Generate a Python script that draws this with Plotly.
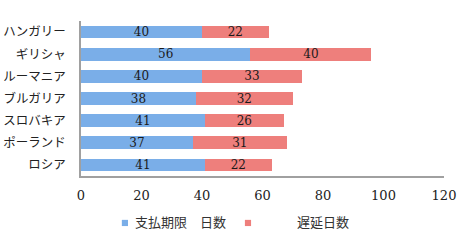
import plotly.graph_objects as go

categories = ["ハンガリー", "ギリシャ", "ルーマニア", "ブルガリア", "スロバキア", "ポーランド", "ロシア"]
payment_days = [40, 56, 40, 38, 41, 37, 41]
delay_days = [22, 40, 33, 32, 26, 31, 22]
series_names = ["支払期限　日数", "遅延日数"]
x_ticks = [0, 20, 40, 60, 80, 100, 120]

colors = ["#7aaee8", "#ee7f7c"]
font_family = "'DejaVu Serif', 'Noto Sans CJK JP', serif"

fig = go.Figure()
for name, vals, col in zip(series_names, [payment_days, delay_days], colors):
    fig.add_trace(go.Bar(
        y=categories, x=vals, orientation="h", name=name,
        marker=dict(color=col, line=dict(width=0)),
        text=vals, textposition="inside", insidetextanchor="middle", textangle=0,
        textfont=dict(color="#1a1a1a", size=12, family=font_family),
        showlegend=False,
    ))

# custom legend (markers + labels) placed below the axis
leg_y = -0.303
leg_items = [(0.121, 0.143), (0.46, 0.5895)]
for (mx, tx), name, col in zip(leg_items, series_names, colors):
    fig.add_shape(type="rect", xref="paper", yref="paper",
                  x0=mx - 0.0085, x1=mx + 0.0085, y0=leg_y - 0.02, y1=leg_y + 0.02,
                  fillcolor=col, line=dict(width=0))
    fig.add_annotation(xref="paper", yref="paper", x=tx, y=leg_y, xanchor="left",
                       yanchor="middle", text=name, showarrow=False,
                       font=dict(size=13, color="#333", family=font_family))

fig.update_layout(
    barmode="stack",
    bargap=0.42,
    width=457, height=247,
    margin=dict(l=81, r=13, t=21, b=71, autoexpand=False),
    paper_bgcolor="white", plot_bgcolor="white",
    font=dict(family=font_family, size=13, color="#222"),
    uniformtext=dict(mode="show", minsize=12),
    showlegend=False,
    xaxis=dict(range=[0, 120], tickvals=x_ticks, showgrid=False, zeroline=False,
               showline=True, linecolor="#a0a0a0", linewidth=1.5, ticks="",
               ticklabelstandoff=7,
               tickfont=dict(size=13, color="#222"), automargin=False),
    yaxis=dict(autorange="reversed", showgrid=False, zeroline=False,
               showline=True, linecolor="#a0a0a0", linewidth=1.5, ticks="",
               ticklabelstandoff=11,
               tickfont=dict(size=12.5, color="#222"), automargin=False),
)

fig.write_html("out.html")
